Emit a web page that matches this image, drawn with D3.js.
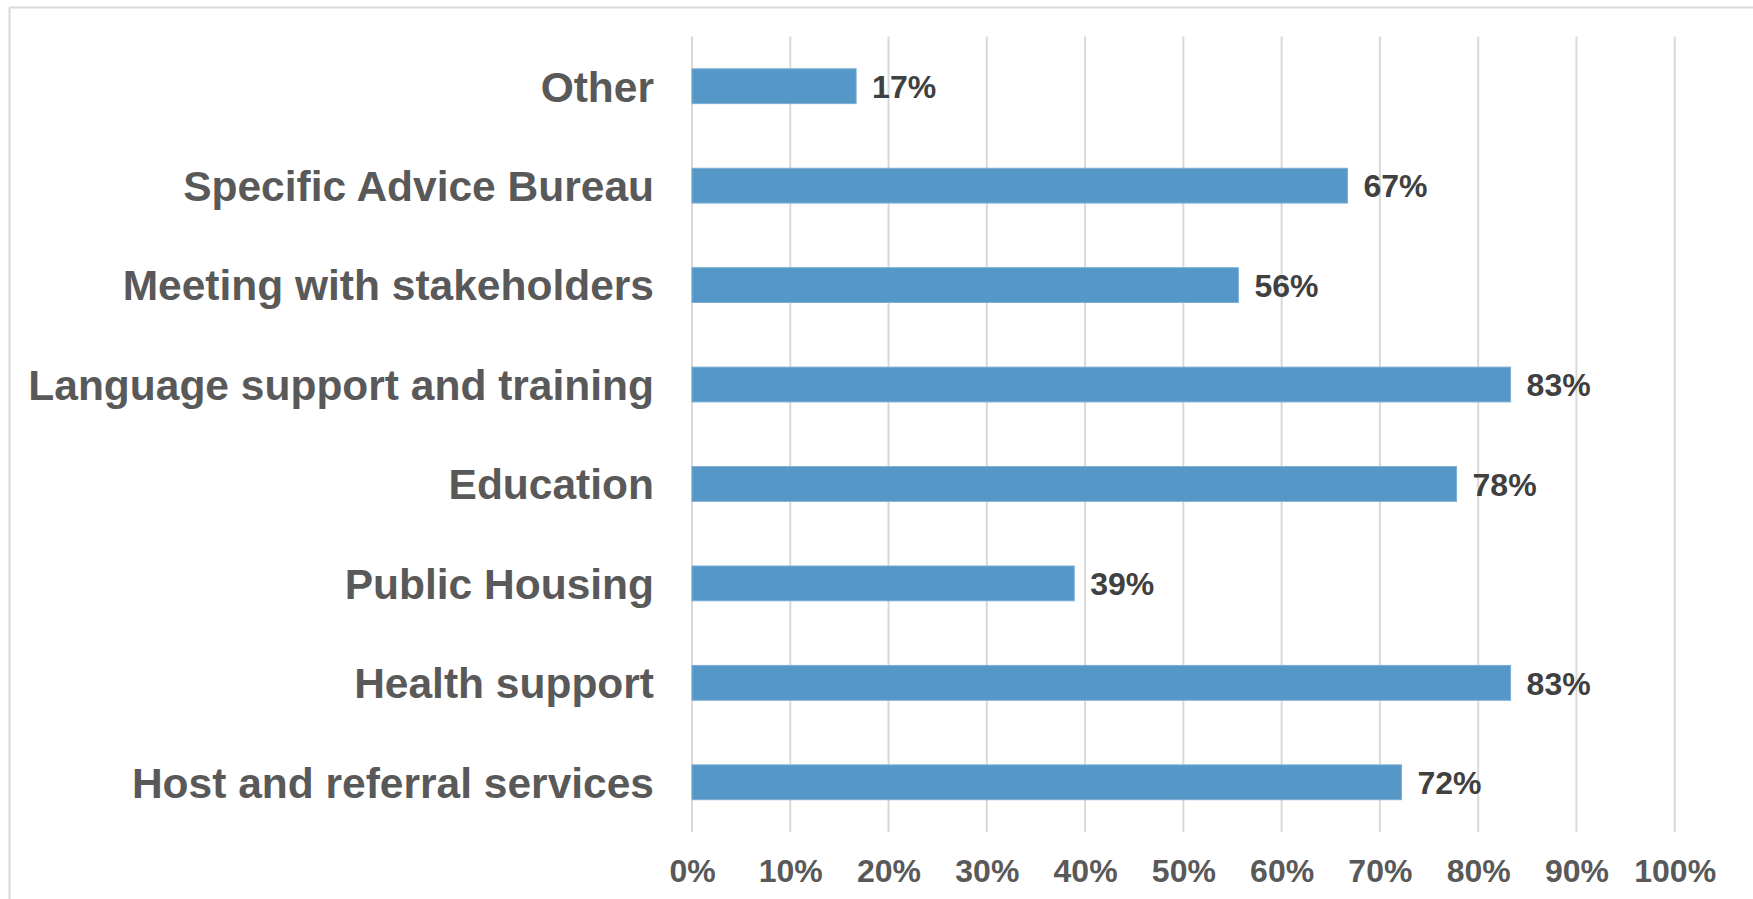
<!DOCTYPE html>
<html>
<head>
<meta charset="utf-8">
<script src="https://cdn.jsdelivr.net/npm/d3@7"></script>
<style>
  html, body { margin: 0; padding: 0; background: #ffffff; }
  svg { display: block; }
  text { font-family: "Liberation Sans", Arial, Helvetica, sans-serif; font-weight: bold; }
</style>
</head>
<body>
<svg id="chart" width="1753" height="899"></svg>
<script>
// Services offered (share of respondents), listed top to bottom
const categories = [
  "Other",
  "Specific Advice Bureau",
  "Meeting with stakeholders",
  "Language support and training",
  "Education",
  "Public Housing",
  "Health support",
  "Host and referral services"
];
const shares = [0.167, 0.667, 0.556, 0.833, 0.778, 0.389, 0.833, 0.722];
const xTicks = [0, 0.1, 0.2, 0.3, 0.4, 0.5, 0.6, 0.7, 0.8, 0.9, 1.0];

const W = 1753, H = 899;
const margin = { top: 36.5, right: 78, bottom: 67, left: 692 };
const svg = d3.select("#chart");

// Chart area frame (top and left edges visible)
svg.append("line").attr("x1", 9.5).attr("x2", W).attr("y1", 7.5).attr("y2", 7.5)
  .attr("stroke", "#d9d9d9").attr("stroke-width", 2);
svg.append("line").attr("x1", 9.5).attr("x2", 9.5).attr("y1", 7.5).attr("y2", H)
  .attr("stroke", "#d9d9d9").attr("stroke-width", 2);

const x = d3.scaleLinear().domain([0, 1]).range([margin.left, W - margin.right - 0.3]);
const y = d3.scaleBand().domain(categories)
  .range([margin.top, H - margin.bottom])
  .paddingInner(0.65).paddingOuter(0.325);

const plotBottom = H - margin.bottom;

// Vertical gridlines
svg.append("g").selectAll("line").data(xTicks).join("line")
  .attr("x1", d => x(d)).attr("x2", d => x(d))
  .attr("y1", margin.top).attr("y2", plotBottom)
  .attr("stroke", "#d9d9d9").attr("stroke-width", 2);

// Bottom axis labels
const xAxis = d3.axisBottom(x).tickValues(xTicks).tickFormat(d3.format(".0%")).tickSize(0).tickPadding(0);
const gx = svg.append("g").attr("transform", `translate(0,${plotBottom})`).call(xAxis);
gx.select(".domain").remove();
gx.selectAll("text")
  .attr("y", 50).attr("dy", null)
  .attr("fill", "#595959").attr("font-size", 32)
  .attr("font-family", "'Liberation Sans', Arial, sans-serif").attr("font-weight", "bold");

// Category axis labels
const yAxis = d3.axisLeft(y).tickSize(0).tickPadding(38);
const gy = svg.append("g").attr("transform", `translate(${margin.left},0)`).call(yAxis);
gy.select(".domain").remove();
gy.selectAll("text")
  .attr("dy", "0.36em")
  .attr("fill", "#595959").attr("font-size", 42.5)
  .attr("font-family", "'Liberation Sans', Arial, sans-serif").attr("font-weight", "bold");

// Bars
svg.append("g").selectAll("rect").data(categories).join("rect")
  .attr("x", x(0))
  .attr("y", d => y(d))
  .attr("width", (d, i) => x(shares[i]) - x(0))
  .attr("height", y.bandwidth())
  .attr("fill", "#5597c6")
  .attr("stroke", "#7aaed5").attr("stroke-width", 1);

// Value labels
svg.append("g").selectAll("text").data(categories).join("text")
  .attr("x", (d, i) => x(shares[i]) + 16)
  .attr("y", d => y(d) + y.bandwidth() / 2)
  .attr("dy", "0.37em")
  .attr("fill", "#404040").attr("font-size", 32)
  .text((d, i) => d3.format(".0%")(shares[i]));
</script>
</body>
</html>
